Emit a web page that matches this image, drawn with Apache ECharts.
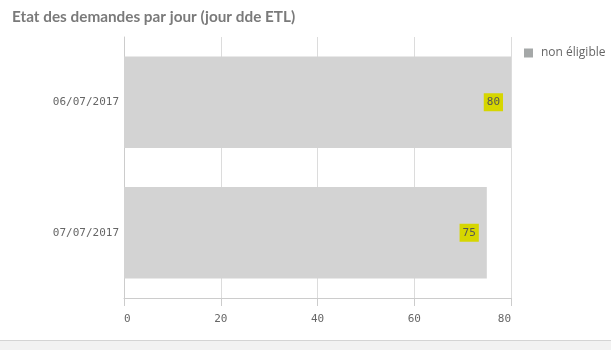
<!DOCTYPE html>
<html><head><meta charset="utf-8">
<script src="https://cdn.jsdelivr.net/npm/echarts@6/dist/echarts.min.js"></script>
<style>html,body{margin:0;padding:0;background:#fff}#c{width:611px;height:350px}</style>
</head><body><div id="c"></div>
<script>
const categories = ['06/07/2017', '07/07/2017'];
const values = [80, 75];
const seriesName = 'non éligible';
const titleText = 'Etat des demandes par jour (jour dde ETL)';

const chart = echarts.init(document.getElementById('c'), null, {renderer: 'canvas'});
const mono = 'DejaVu Sans Mono';
chart.setOption({
  animation: false,
  backgroundColor: '#fff',
  title: {
    text: titleText, left: 7, top: 5,
    textStyle: {fontFamily: 'Lato', fontWeight: 'bold', fontSize: 15.3, color: '#7a7a7a'}
  },
  legend: {
    data: [{name: seriesName, itemStyle: {color: '#a5a8a8'}}],
    left: 519, top: 42, orient: 'vertical',
    itemWidth: 9, itemHeight: 9, itemGap: 6,
    icon: 'rect',
    textStyle: {fontFamily: 'Open Sans', fontSize: 12, color: '#666', padding: [0,0,0,3]}
  },
  grid: {left: 124, right: 100, top: 37, bottom: 52, containLabel: false},
  xAxis: {
    type: 'value', min: 0, max: 80, interval: 20,
    axisLine: {show: true, lineStyle: {color: '#cccccc'}},
    axisTick: {show: true, length: 8, lineStyle: {color: '#cccccc'}},
    splitLine: {show: true, lineStyle: {color: '#dcdcdc'}},
    axisLabel: {fontFamily: mono, fontSize: 11, color: '#666', margin: 16,
      alignMinLabel: 'left', alignMaxLabel: 'right'}
  },
  yAxis: {
    type: 'category', data: categories, inverse: true,
    axisLine: {show: true, lineStyle: {color: '#cccccc'}},
    axisTick: {show: false},
    axisLabel: {fontFamily: mono, fontSize: 11, color: '#666', margin: 5}
  },
  series: [{
    name: seriesName, type: 'bar', data: values, barWidth: '70%',
    itemStyle: {color: '#d3d3d3'},
    label: {
      show: true, position: 'insideRight', distance: 8,
      fontFamily: mono, fontSize: 11, color: '#555',
      backgroundColor: '#d6d600', padding: [4, 3, 3, 3]
    }
  }],
  graphic: [
    {type: 'rect', left: 0, top: 341, shape: {width: 611, height: 9}, style: {fill: '#f2f2f2'}},
    {type: 'rect', left: 0, top: 340, shape: {width: 611, height: 1}, style: {fill: '#d4d4d4'}}
  ]
});
</script></body></html>
